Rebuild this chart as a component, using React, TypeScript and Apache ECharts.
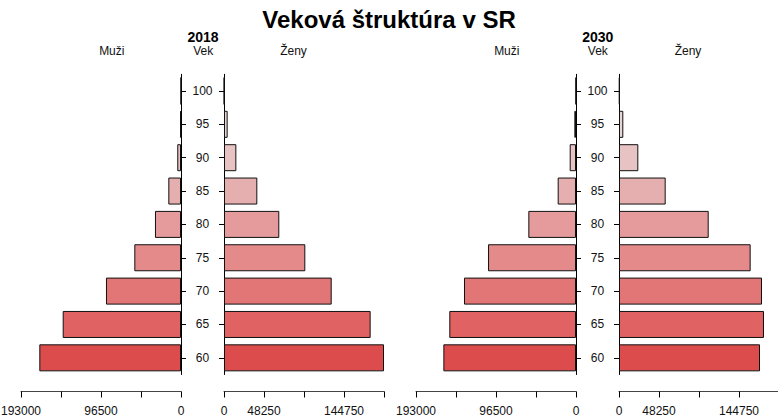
import React, { useEffect, useRef } from "react";
import * as echarts from "echarts";

// ---- data ----
const ages = ["60", "65", "70", "75", "80", "85", "90", "95", "100"];
const male2018 = [170900, 142700, 90500, 56300, 31400, 15300, 4500, 900, 100];
const female2018 = [193000, 176900, 129900, 98100, 66700, 40200, 14900, 4400, 300];
const male2030 = [160000, 152800, 135100, 106100, 57500, 22100, 7600, 2000, 300];
const female2030 = [170100, 174900, 172500, 158800, 108200, 56300, 23300, 5200, 800];
const axisMax = 193000;
const axisStep = 48250;
const maleTickLabels = [193000, 96500, 0];
const femaleTickLabels = [0, 48250, 144750];
const years = ["2018", "2030"];
const title = "Veková štruktúra v SR";
const sideLabels = ["Muži", "Vek", "Ženy"];

// ---- style ----
const ageColors = [
  "#dd4c4c",
  "#e06262",
  "#e27676",
  "#e48a8a",
  "#e59b9b",
  "#e6afaf",
  "#e8c3c3",
  "#ead5d5",
  "#ece3e3",
];
const FONT = '"Liberation Sans", Arial, Helvetica, sans-serif';
const GRID_TOP = 74.3;
const GRID_H = 300.2;

export default function App() {
  const ref = useRef<HTMLDivElement>(null);

  useEffect(() => {
    if (!ref.current) return;
    const chart = echarts.init(ref.current, null, { renderer: "svg" });

    const panels = [
      { left: 21, inverse: true, values: male2018, yPos: "right", labels: true, ticks: maleTickLabels },
      { left: 224, inverse: false, values: female2018, yPos: "left", labels: false, ticks: femaleTickLabels },
      { left: 416, inverse: true, values: male2030, yPos: "right", labels: true, ticks: maleTickLabels },
      { left: 619, inverse: false, values: female2030, yPos: "left", labels: false, ticks: femaleTickLabels },
    ];

    const grid = panels.map((p) => ({
      left: p.left,
      width: 160,
      top: GRID_TOP,
      height: GRID_H,
      containLabel: false,
      outerBoundsMode: "none",
    }));
    const xAxis = panels.map((p, i) => ({
      gridIndex: i,
      type: "value",
      min: 0,
      max: axisMax,
      interval: axisStep,
      inverse: p.inverse,
      position: "bottom",
      offset: 17,
      axisLine: { show: true, onZero: false, lineStyle: { color: "#444", width: 1 } },
      axisTick: { show: true, length: 6, lineStyle: { color: "#000", width: 1 } },
      axisLabel: {
        show: true,
        margin: 13,
        fontSize: 12,
        color: "#111",
        fontFamily: FONT,
        showMinLabel: true,
        showMaxLabel: true,
        formatter: (v: number) => (p.ticks.indexOf(v) >= 0 ? String(v) : ""),
      },
      splitLine: { show: false },
    }));
    const yAxis = panels.map((p, i) => ({
      gridIndex: i,
      type: "category",
      data: ages,
      position: p.yPos,
      axisLine: { show: true, onZero: false, lineStyle: { color: "#000", width: 1 } },
      axisTick: { show: true, alignWithLabel: true, length: 5, lineStyle: { color: "#000" } },
      axisLabel: p.labels
        ? { show: true, interval: 0, align: "center", margin: 21.5, fontSize: 12, color: "#111", fontFamily: FONT }
        : { show: false },
      splitLine: { show: false },
    }));
    const series = panels.map((p, i) => ({
      type: "bar",
      xAxisIndex: i,
      yAxisIndex: i,
      barWidth: "81%",
      itemStyle: { borderColor: "#111", borderWidth: 1 },
      data: p.values.map((v, j) => ({ value: v, itemStyle: { color: ageColors[j] } })),
    }));

    const centers = [
      { year: 203, side: [111.8, 203.2, 293.5] },
      { year: 597.8, side: [506.8, 597.8, 688] },
    ];
    const graphic: any[] = [
      {
        type: "text",
        x: 389,
        y: 19,
        style: { text: title, textAlign: "center", textVerticalAlign: "middle", fontSize: 24, fontWeight: "bold", fontFamily: FONT, fill: "#000" },
      },
    ];
    centers.forEach((c, k) => {
      graphic.push({
        type: "text",
        x: c.year,
        y: 37,
        style: { text: years[k], textAlign: "center", textVerticalAlign: "middle", fontSize: 14, fontWeight: "bold", fontFamily: FONT, fill: "#000" },
      });
      sideLabels.forEach((s, j) => {
        graphic.push({
          type: "text",
          x: c.side[j],
          y: 50.5,
          style: { text: s, textAlign: "center", textVerticalAlign: "middle", fontSize: 12, fontFamily: FONT, fill: "#111" },
        });
      });
    });

    chart.setOption({
      animation: false,
      backgroundColor: "#fff",
      grid,
      xAxis,
      yAxis,
      series,
      graphic,
    } as any);

    return () => chart.dispose();
  }, []);

  return <div ref={ref} style={{ position: "absolute", left: 0, top: 0, width: 778, height: 419 }} />;
}
